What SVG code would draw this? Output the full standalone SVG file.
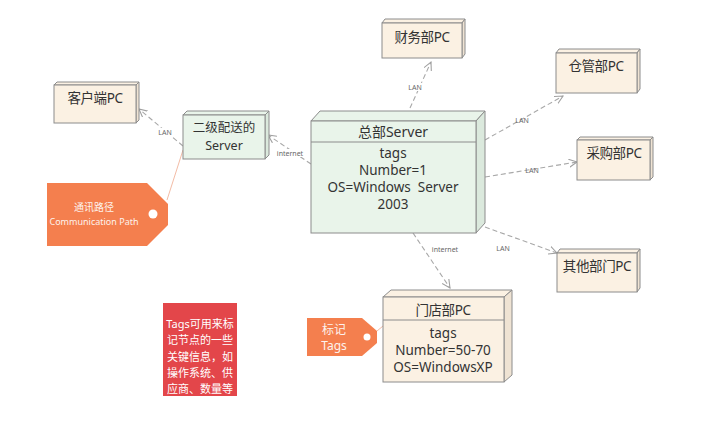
<svg xmlns="http://www.w3.org/2000/svg" width="710" height="422" viewBox="0 0 710 422">
<defs>
<marker id="arr" viewBox="0 0 10 10" refX="9" refY="5" markerWidth="9" markerHeight="9" markerUnits="userSpaceOnUse" orient="auto">
<path d="M0,0.5 L9,5 L0,9.5" fill="none" stroke="#a0a0a0" stroke-width="1.2"/>
</marker>
<style>
.pc{fill:#fbf1e3;stroke:#8c8c8c;stroke-width:1}
.pcs{fill:#efe3d3;stroke:#8c8c8c;stroke-width:1}
.sv{fill:#e9f4ea;stroke:#8c8c8c;stroke-width:1}
.svs{fill:#dbe9dd;stroke:#8c8c8c;stroke-width:1}
.t{font-family:"Noto Sans","Noto Sans CJK SC",sans-serif;fill:#333;text-anchor:middle}
.ttl{font-size:13.5px;letter-spacing:-0.4px}
.body{font-size:13.5px}
.lbl{font-family:"Noto Sans","Noto Sans CJK SC",sans-serif;font-size:7px;fill:#666;text-anchor:middle}
.con{fill:none;stroke:#a8a8a8;stroke-width:1.1;stroke-dasharray:5,3;marker-end:url(#arr)}
.tag{fill:#f47f4e}
.wt{font-family:"Noto Sans","Noto Sans CJK SC",sans-serif;fill:#fff;text-anchor:middle}
</style>
</defs>
<rect width="710" height="422" fill="#fff"/>

<g id="connectors">
<path class="con" d="M183,146 L139,109"/>
<path class="con" d="M311,164 L268,135"/>
<path class="con" d="M410,108 L431,62"/>
<path class="con" d="M485,140 L563,96"/>
<path class="con" d="M485,177 L577,162"/>
<path class="con" d="M485,227 L557,253"/>
<path class="con" d="M413,233 L450,288"/>
<path d="M167,200 L183,150" stroke="#f3bca6" stroke-width="1" fill="none"/>
<path d="M377,331 L383,326" stroke="#f3bca6" stroke-width="1" fill="none"/>
<rect x="155" y="128" width="20" height="8" fill="#fff"/>
<text class="lbl" x="165" y="134.5">LAN</text>
<rect x="277" y="149" width="27" height="8" fill="#fff"/>
<text class="lbl" x="290" y="155.5">internet</text>
<rect x="406" y="83" width="18" height="8" fill="#fff"/>
<text class="lbl" x="415" y="89.5">LAN</text>
<text class="lbl" x="522" y="122.5">LAN</text>
<text class="lbl" x="532" y="172.5">LAN</text>
<text class="lbl" x="503" y="250.5">LAN</text>
<text class="lbl" x="445" y="251.5">internet</text>
</g>

<g id="client-pc">
<polygon class="pc" points="54,85 57,82 139,82 136,85"/>
<polygon class="pcs" points="136,85 139,82 139,120 136,123"/>
<rect class="pc" x="54" y="85" width="82" height="38"/>
<text class="t ttl" x="95" y="103">客户端PC</text>
</g>

<g id="secondary-server">
<polygon class="sv" points="183,115 187,111 269,111 265,115"/>
<polygon class="svs" points="265,115 269,111 269,155 265,159"/>
<rect class="sv" x="183" y="115" width="82" height="44"/>
<text class="t" x="224" y="132" font-size="12.5">二级配送的</text>
<text class="t" x="224" y="150" font-size="12.5">Server</text>
</g>

<g id="hq-server">
<polygon class="sv" points="311,121 320,111 485,111 476,121"/>
<polygon class="svs" points="476,121 485,111 485,223 476,233"/>
<rect class="sv" x="311" y="121" width="165" height="112"/>
<line x1="311" y1="142" x2="476" y2="142" stroke="#8c8c8c" stroke-width="1"/>
<text class="t" x="393" y="137" font-size="14">总部Server</text>
<text class="t body" x="393" y="158">tags</text>
<text class="t body" x="393" y="175">Number=1</text>
<text class="t body" x="393" y="192" xml:space="preserve">OS=Windows  Server</text>
<text class="t body" x="393" y="209">2003</text>
</g>

<g id="finance-pc">
<polygon class="pc" points="382,23 385,19 465,19 462,23"/>
<polygon class="pcs" points="462,23 465,19 465,54 462,58"/>
<rect class="pc" x="382" y="23" width="80" height="35"/>
<text class="t ttl" x="422" y="42">财务部PC</text>
</g>

<g id="warehouse-pc">
<polygon class="pc" points="556,53 559,49 640,49 637,53"/>
<polygon class="pcs" points="637,53 640,49 640,89 637,93"/>
<rect class="pc" x="556" y="53" width="81" height="40"/>
<text class="t ttl" x="596" y="71">仓管部PC</text>
</g>

<g id="purchase-pc">
<polygon class="pc" points="577,140 580,137 653,137 650,140"/>
<polygon class="pcs" points="650,140 653,137 653,177 650,180"/>
<rect class="pc" x="577" y="140" width="73" height="40"/>
<text class="t ttl" x="614" y="158">采购部PC</text>
</g>

<g id="other-pc">
<polygon class="pc" points="557,253 560,249 640,249 637,253"/>
<polygon class="pcs" points="637,253 640,249 640,288 637,292"/>
<rect class="pc" x="557" y="253" width="80" height="39"/>
<text class="t ttl" x="597" y="271">其他部门PC</text>
</g>

<g id="store-pc">
<polygon class="pc" points="383,297 391,290 512,290 504,297"/>
<polygon class="pcs" points="504,297 512,290 512,375 504,382"/>
<rect class="pc" x="383" y="297" width="121" height="85"/>
<line x1="383" y1="320" x2="504" y2="320" stroke="#8c8c8c" stroke-width="1"/>
<text class="t ttl" x="443" y="314.5">门店部PC</text>
<text class="t body" x="443" y="338">tags</text>
<text class="t body" x="443" y="355">Number=50-70</text>
<text class="t body" x="443" y="372">OS=WindowsXP</text>
</g>

<g id="tag-comm-path">
<polygon class="tag" points="47,183 147,183 168,204 168,225 147,246 47,246"/>
<circle cx="153" cy="214" r="4.5" fill="#fff"/>
<text class="wt" x="94" y="210.5" font-size="10" opacity="0.9">通讯路径</text>
<text class="wt" x="94" y="225" font-size="9" opacity="0.9">Communication Path</text>
</g>

<g id="tag-tags">
<polygon class="tag" points="307,318 362,318 377,331 377,343 362,356 307,356"/>
<circle cx="367" cy="337" r="3.5" fill="#fff"/>
<text class="wt" x="334" y="334" font-size="12" opacity="0.9">标记</text>
<text class="wt" x="334" y="350" font-size="12" opacity="0.9">Tags</text>
</g>

<g id="note-tags">
<rect x="163" y="303" width="74" height="93" fill="#e3464a"/>
<text class="wt" x="200" y="327.5" font-size="11">Tags可用来标</text>
<text class="wt" x="200" y="344" font-size="11">记节点的一些</text>
<text class="wt" x="200" y="360.5" font-size="11">关键信息，如</text>
<text class="wt" x="200" y="377" font-size="11">操作系统、供</text>
<text class="wt" x="200" y="393" font-size="11">应商、数量等</text>
</g>
</svg>
